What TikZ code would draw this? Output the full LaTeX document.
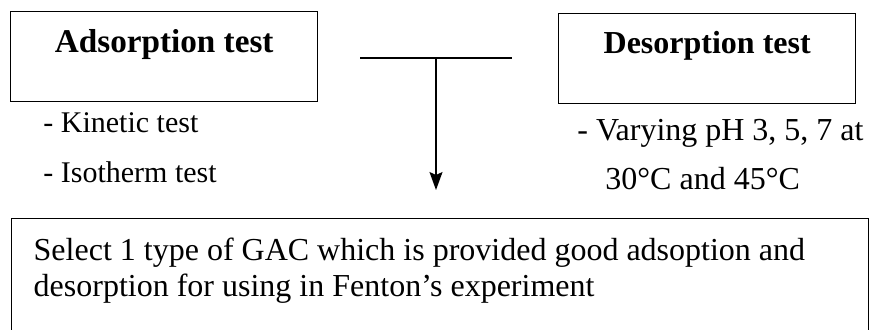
\documentclass[tikz,border=0pt]{standalone}
\usepackage{fontspec}
\setmainfont{Liberation Serif}
\usetikzlibrary{positioning,arrows.meta}

\begin{document}
\begin{tikzpicture}[x=0.5pt, y=-0.5pt,
  testbox/.style={draw=black, line width=0.7pt, inner sep=0pt,
                  font=\fontsize{16}{19}\selectfont\bfseries},
  item/.style={inner sep=0pt, anchor=base west, font=\fontsize{15}{18}\selectfont},
  selbox/.style={draw=black, line width=0.7pt, inner xsep=11pt, inner ysep=9.6pt,
                 font=\fontsize{16}{18}\selectfont},
  arrow/.style={-{Stealth[length=9pt, width=6.5pt, inset=1.5pt]}, line width=0.7pt}
]
\useasboundingbox (0,0) rectangle (873,329);

% --- Adsorption ---
\node[testbox, anchor=north west, minimum width=153.5pt,
      text height=20.5pt, text depth=24.5pt,
      font=\fontsize{16.6}{19}\selectfont\bfseries] (ads) at (10,11) {Adsorption test};
\node[item] (kin) at (43,132) {- Kinetic test};
\node[item] (iso) at ([yshift=-25pt]kin.base west) {- Isotherm test};

% --- Desorption ---
\node[testbox, anchor=north west, minimum width=148.5pt,
      text height=20pt, text depth=25pt] (des) at (558,13) {Desorption test};
\node[item, font=\fontsize{16}{18}\selectfont] (vary) at (577,140) {- Varying pH 3, 5, 7 at};
\node[item, font=\fontsize{16}{18}\selectfont] (temp) at (605,189) {30°C and 45°C};

% --- join ---
\coordinate (jl) at (360,58);
\coordinate (jr) at (512,58);
\coordinate (jm) at (436,58);
\coordinate (tip) at (436,190);
\draw[line width=0.7pt] (jl) -- (jr);
\draw[arrow] (jm) -- (tip);

% --- Selection ---
\node[selbox, anchor=north west] (sel) at (11,218)
  {\parbox[t][41.8pt][t]{406.5pt}{\raggedright Select 1 type of GAC which is provided good adsoption and\\
   desorption for using in Fenton’s experiment}};

\end{tikzpicture}
\end{document}
